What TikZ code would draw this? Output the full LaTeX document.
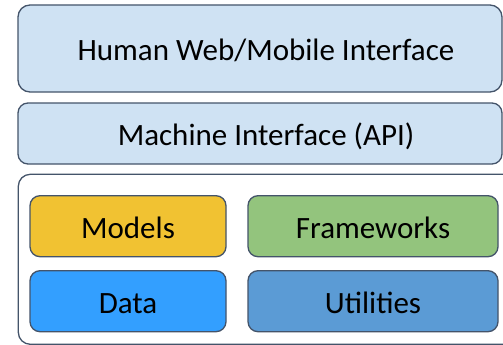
\documentclass[tikz,border=0pt]{standalone}
\usepackage{fontspec}
\setmainfont{Carlito}
\definecolor{edge}{HTML}{44546A}
\definecolor{lightfill}{HTML}{CFE2F3}
\definecolor{modelfill}{HTML}{F1C232}
\definecolor{frameworkfill}{HTML}{93C47D}
\definecolor{datafill}{HTML}{339FFF}
\definecolor{utilfill}{HTML}{5B9BD5}
\begin{document}
\begin{tikzpicture}[x=1pt,y=-1pt,
  every node/.style={font=\fontsize{31}{37}\selectfont, text height=24pt, text depth=0pt, inner sep=0pt, outer sep=0pt},
  layer/.style={draw=edge, line width=1.3pt, rounded corners=12pt, fill=lightfill},
  part/.style={draw=edge, line width=1.3pt, rounded corners=10pt}]
\useasboundingbox (0,0) rectangle (503,345);
\clip (0,0) rectangle (503,345);
\node[layer, minimum width=484pt, minimum height=87pt, label={[xshift=6pt]center:Human Web/Mobile Interface}] (human) at (260,48.5) {};
\node[layer, rounded corners=10pt, minimum width=484pt, minimum height=61pt, label={[xshift=6pt]center:Machine Interface (API)}] (api) at (260,133.5) {};
\node[draw=edge, line width=1.3pt, rounded corners=12pt, fill=white, minimum width=500pt, minimum height=170pt, anchor=north west] (core) at (18.3,174.3) {};
\node[part, fill=modelfill, minimum width=196pt, minimum height=61pt] (models) at (128,226.2) {Models};
\node[part, fill=frameworkfill, minimum width=250pt, minimum height=61pt] (frameworks) at (373,226.2) {Frameworks};
\node[part, fill=datafill, minimum width=196pt, minimum height=61pt] (data) at (128,301.2) {Data};
\node[part, fill=utilfill, minimum width=250pt, minimum height=61pt] (utilities) at (373,301.2) {Utilities};
\end{tikzpicture}
\end{document}
